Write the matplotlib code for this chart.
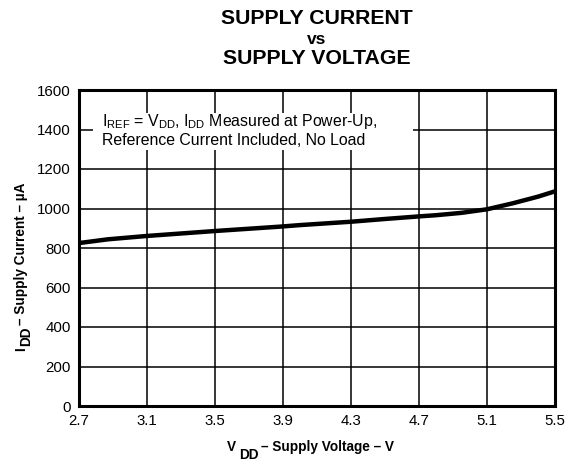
import matplotlib
matplotlib.use("Agg")
import matplotlib.pyplot as plt
from matplotlib import font_manager
from matplotlib.patches import Rectangle

plt.rcParams['font.family'] = ['Liberation Sans', 'DejaVu Sans']
plt.rcParams['mathtext.fontset'] = 'custom'
plt.rcParams['mathtext.rm'] = 'Liberation Sans'
plt.rcParams['mathtext.bf'] = 'Liberation Sans:bold'
plt.rcParams['mathtext.it'] = 'Liberation Sans:italic'

names = {f.name for f in font_manager.fontManager.ttflist}
LABEL_FONT = ['Liberation Sans Narrow'] if 'Liberation Sans Narrow' in names else ['Liberation Sans']
LABEL_SIZE = 11.5 if LABEL_FONT[0] == 'Liberation Sans Narrow' else 9.8

# Data
vdd = [2.7, 2.87, 3.1, 3.5, 3.88, 4.0, 4.3, 4.5, 4.7, 4.8, 4.95, 5.1, 5.25, 5.4, 5.5]
idd = [825, 844, 861, 886, 908, 916, 933, 947, 960, 966, 978, 996, 1026, 1060, 1087]
xticks = [2.7, 3.1, 3.5, 3.9, 4.3, 4.7, 5.1, 5.5]
yticks = [0, 200, 400, 600, 800, 1000, 1200, 1400, 1600]

W, H = 573, 463
fig = plt.figure(figsize=(W / 100, H / 100), dpi=100)
ax = fig.add_axes([79 / W, 57 / H, 476 / W, 316 / H])

ax.plot(vdd, idd, color='black', lw=3.2, solid_capstyle='butt', solid_joinstyle='round', zorder=3)

ax.set_xlim(2.7, 5.5)
ax.set_ylim(0, 1600)
ax.set_xticks(xticks)
ax.set_xticklabels([f"{v:.1f}" for v in xticks])
ax.set_yticks(yticks)
ax.tick_params(length=0, labelsize=10.8)
ax.tick_params(axis='x', pad=6)
ax.tick_params(axis='y', pad=6)
ax.grid(True, color='black', lw=1.1)
for s in ax.spines.values():
    s.set_linewidth(2.2)
    s.set_zorder(4)

# white box behind the annotation (covers grid)
ax.add_patch(Rectangle((0.029, 0.81), 0.673, 0.118, transform=ax.transAxes,
                       facecolor='white', edgecolor='none', zorder=2.5))
ax.text(0.048, 0.885, r"I$_{\mathrm{REF}}$ = V$_{\mathrm{DD}}$, I$_{\mathrm{DD}}$ Measured at Power-Up,",
        transform=ax.transAxes, fontsize=11.4, va='baseline', ha='left', zorder=5)
ax.text(0.048, 0.826, "Reference Current Included, No Load",
        transform=ax.transAxes, fontsize=11.4, va='baseline', ha='left', zorder=5)

# title
fig.text(0.553, 1 - 18.5 / H, "SUPPLY CURRENT", ha='center', va='center', fontsize=15.3, fontweight='bold')
fig.text(0.553, 1 - 40 / H, "vs", ha='center', va='center', fontsize=12.5, fontweight='bold')
fig.text(0.553, 1 - 59 / H, "SUPPLY VOLTAGE", ha='center', va='center', fontsize=15.3, fontweight='bold')

renderer = fig.canvas.get_renderer()

def ptext(x, y, s, **kw):
    # x, y in image pixel coordinates (origin top-left)
    return fig.text(x / W, 1 - y / H, s, fontfamily=LABEL_FONT, fontsize=LABEL_SIZE,
                    fontweight='bold', **kw)

# x label: V_DD – Supply Voltage – V
t1 = ptext(227, 451, "V", ha='left', va='baseline')
e1 = t1.get_window_extent(renderer)
t2 = ptext(e1.x1 + 3, 459, "DD", ha='left', va='baseline')
e2 = t2.get_window_extent(renderer)
ptext(e2.x1 + 2, 451, "\u2013 Supply Voltage \u2013 V", ha='left', va='baseline')

# y label (rotated): I_DD – Supply Current – µA
r1 = ptext(25, 351, "I", ha='left', va='baseline', rotation=90, rotation_mode='anchor')
f1 = r1.get_window_extent(renderer)
y_next = H - f1.y1 - 1
r2 = ptext(30, y_next, "DD", ha='left', va='baseline', rotation=90, rotation_mode='anchor')
f2 = r2.get_window_extent(renderer)
y_next2 = H - f2.y1 - 2
ptext(25, y_next2, "\u2013 Supply Current \u2013 \u00b5A", ha='left', va='baseline', rotation=90,
      rotation_mode='anchor')

fig.savefig("out.png", dpi=100)
